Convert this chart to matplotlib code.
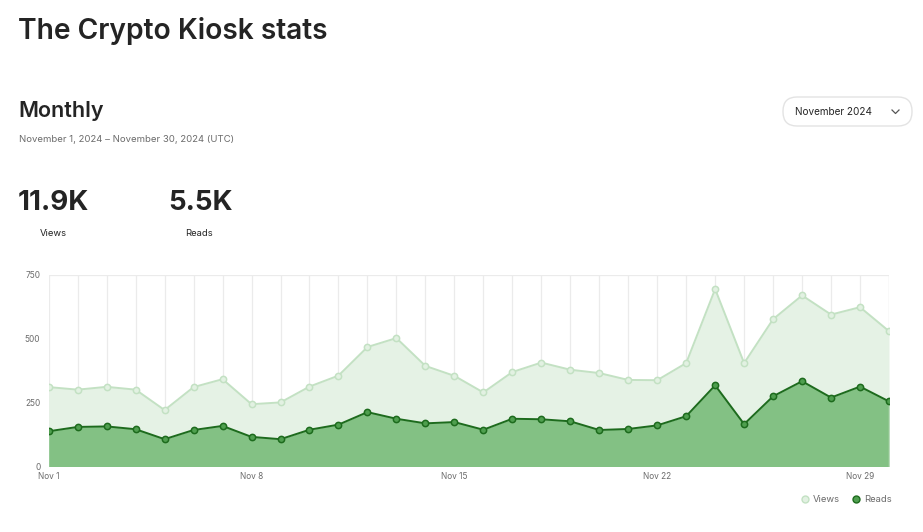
import matplotlib.pyplot as plt
from matplotlib.patches import FancyBboxPatch
from matplotlib.lines import Line2D

days = list(range(1, 31))
views = [311, 301, 312, 301, 221, 311, 342, 244, 251, 313, 356, 468, 503, 394, 355,
         290, 370, 407, 379, 366, 339, 338, 405, 695, 405, 577, 670, 595, 624, 530]
reads = [138, 155, 157, 146, 107, 143, 159, 116, 107, 144, 164, 213, 187, 169, 174,
         144, 187, 185, 177, 143, 147, 161, 197, 318, 166, 275, 334, 270, 313, 255]
tick_days = [1, 8, 15, 22, 29]
tick_labels = ['Nov 1', 'Nov 8', 'Nov 15', 'Nov 22', 'Nov 29']
y_ticks = [0, 250, 500, 750]

views_line = '#c3e1c3'
views_fill = '#e5f2e5'
reads_line = '#1d6b1d'
reads_marker = '#4f9f4f'
reads_fill = '#83c184'
grey = '#6b6b6b'
dark = '#242424'

plt.rcParams['font.family'] = ['Inter', 'DejaVu Sans']

W, H = 923, 532
fig = plt.figure(figsize=(W / 100, H / 100), dpi=100)

# overlay axes in pixel units for the header texts and dropdown
bg = fig.add_axes([0, 0, 1, 1])
bg.set_xlim(0, W)
bg.set_ylim(H, 0)
bg.axis('off')

bg.text(18, 31, 'The Crypto Kiosk stats', fontsize=20.3, fontweight='semibold',
        color=dark, va='center', ha='left')
bg.text(18, 111, 'Monthly', fontsize=15.5, fontweight='semibold', color=dark,
        va='center', ha='left')
bg.text(19, 139, 'November 1, 2024 \u2013 November 30, 2024 (UTC)', fontsize=6.9,
        color=grey, va='center', ha='left')
bg.text(18, 203, '11.9K', fontsize=20, fontweight='bold', color=dark,
        va='center', ha='left')
bg.text(53, 234, 'Views', fontsize=6.8, color=dark, va='center', ha='center')
bg.text(168, 203, '5.5K', fontsize=20, fontweight='bold', color=dark,
        va='center', ha='left')
bg.text(199, 234, 'Reads', fontsize=6.8, color=dark, va='center', ha='center')

box = FancyBboxPatch((783, 97), 129, 29, boxstyle='round,pad=0,rounding_size=14',
                     facecolor='white', edgecolor='#e3e3e3', linewidth=1)
bg.add_patch(box)
bg.text(795, 112, 'November 2024', fontsize=7.2, color=dark, va='center', ha='left')
bg.plot([892, 895.5, 899], [110, 113.5, 110], color='#555555', linewidth=0.9)

# chart
ax = fig.add_axes([48.7 / W, 1 - 466.5 / H, (889 - 48.7) / W, (466.5 - 275) / H])
ax.fill_between(days, views, color=views_fill, linewidth=0)
ax.fill_between(days, reads, color=reads_fill, linewidth=0)
ax.plot(days, views, color=views_line, linewidth=1.4, marker='o', markersize=4.5,
        markerfacecolor='#e2f1e2', markeredgecolor=views_line, markeredgewidth=1.1,
        zorder=3)
ax.plot(days, reads, color=reads_line, linewidth=1.4, marker='o', markersize=4.5,
        markerfacecolor=reads_marker, markeredgecolor=reads_line, markeredgewidth=1.1,
        zorder=4)

ax.set_xlim(1, 30)
ax.set_ylim(0, 750)
ax.set_xticks(days, minor=False)
ax.grid(axis='x', color='#ebebeb', linewidth=0.9, zorder=0)
ax.set_axisbelow(True)
ax.axhline(750, color='#ebebeb', linewidth=0.9)
ax.axvline(30, color='#ebebeb', linewidth=0.9)
for s in ax.spines.values():
    s.set_visible(False)
ax.tick_params(length=0)
ax.set_xticklabels([])
for d, lab in zip(tick_days, tick_labels):
    ax.text(d, -38, lab, fontsize=6, color=grey, ha='center', va='center')
ax.set_yticks(y_ticks)
ax.set_yticklabels([str(v) for v in y_ticks], fontsize=6, color=grey)
ax.tick_params(axis='y', pad=6)

handles = [
    Line2D([], [], linestyle='none', marker='o', markersize=5,
           markerfacecolor='#e2f1e2', markeredgecolor=views_line, label='Views'),
    Line2D([], [], linestyle='none', marker='o', markersize=5,
           markerfacecolor=reads_marker, markeredgecolor=reads_line, label='Reads'),
]
fig.legend(handles=handles, loc='center right', bbox_to_anchor=(896 / W, 1 - 500 / H),
           ncol=2, frameon=False, fontsize=6.8, labelcolor=grey, handletextpad=0.3,
           columnspacing=1.2, handlelength=1.0, borderpad=0)

fig.savefig('out.png', dpi=100)
